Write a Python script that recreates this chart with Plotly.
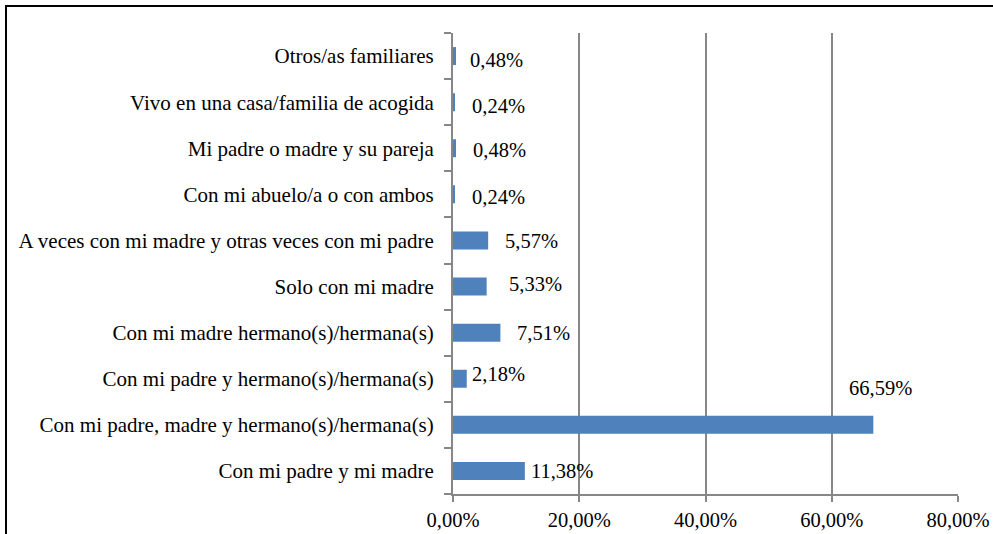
import plotly.graph_objects as go

categories = [
    "Con mi padre y mi madre",
    "Con mi padre, madre y hermano(s)/hermana(s)",
    "Con mi padre y hermano(s)/hermana(s)",
    "Con mi madre hermano(s)/hermana(s)",
    "Solo con mi madre",
    "A veces con mi madre y otras veces con mi padre",
    "Con mi abuelo/a o con ambos",
    "Mi padre o madre y su pareja",
    "Vivo en una casa/familia de acogida",
    "Otros/as familiares",
]
values = [11.38, 66.59, 2.18, 7.51, 5.33, 5.57, 0.24, 0.48, 0.24, 0.48]
tick_vals = [0, 20, 40, 60, 80]
tick_text = ["0,00%", "20,00%", "40,00%", "60,00%", "80,00%"]

# label placement styling (pixel offsets: xshift, yshift, anchor)
label_offsets = [
    (4, 0, "left"),
    (7, 37, "center"),
    (3, 5, "left"),
    (15, 0, "left"),
    (20, 3, "left"),
    (15, -1, "left"),
    (15, -3, "left"),
    (15, -2, "left"),
    (15, -4, "left"),
    (12, -4, "left"),
]

FONT = "Liberation Serif"
NUM_SIZE = 20.5
CAT_SIZE = 21

fig = go.Figure()
fig.add_trace(go.Bar(
    x=values, y=categories, orientation="h",
    marker=dict(color="#4F81BD", line=dict(width=0)),
    width=0.39, hoverinfo="x+y",
))

for v, c, (dx, dy, anc) in zip(values, categories, label_offsets):
    fig.add_annotation(
        x=v, y=c, xref="x", yref="y",
        text=f"{v:.2f}%".replace(".", ","),
        showarrow=False, xanchor=anc, yanchor="middle",
        xshift=dx, yshift=dy,
        font=dict(family=FONT, size=NUM_SIZE, color="#000000"),
    )

L, R, T, B = 453, 35, 33, 40
W, H = 993, 534
pw, ph = W - L - R, H - T - B

# outer chart frame
fig.add_shape(
    type="rect", xref="paper", yref="paper",
    x0=(6 - L) / pw, x1=(1010 - L) / pw,
    y0=(T + ph - 560) / ph, y1=(T + ph - 6) / ph,
    line=dict(color="#000000", width=2), fillcolor="rgba(0,0,0,0)",
    layer="above",
)

fig.update_layout(
    width=W, height=H, autosize=False,
    margin=dict(l=L, r=R, t=T, b=B, autoexpand=False),
    paper_bgcolor="white", plot_bgcolor="white",
    showlegend=False,
    font=dict(family=FONT, size=NUM_SIZE, color="#000000"),
    xaxis=dict(
        range=[0, 80], tickvals=tick_vals, ticktext=tick_text,
        tickfont=dict(family=FONT, size=NUM_SIZE, color="#000000"),
        showgrid=True, gridcolor="#878787", gridwidth=2,
        showline=True, linecolor="#878787", linewidth=2,
        ticks="outside", ticklen=6, tickcolor="#878787", tickwidth=2,
        zeroline=False, fixedrange=True, automargin=False,
    ),
    yaxis=dict(
        categoryorder="array", categoryarray=categories,
        tickfont=dict(family=FONT, size=CAT_SIZE, color="#000000"),
        showgrid=False, showline=True, linecolor="#878787", linewidth=2,
        ticks="outside", ticklen=7, tickcolor="#878787", tickwidth=2,
        tickson="boundaries", ticklabelstandoff=13,
        range=[-0.5, 9.5], fixedrange=True, automargin=False,
    ),
)

fig.write_html(
    "out.html",
    config={"displayModeBar": False},
    post_script="document.body.style.margin='0';document.body.style.padding='0';",
)
